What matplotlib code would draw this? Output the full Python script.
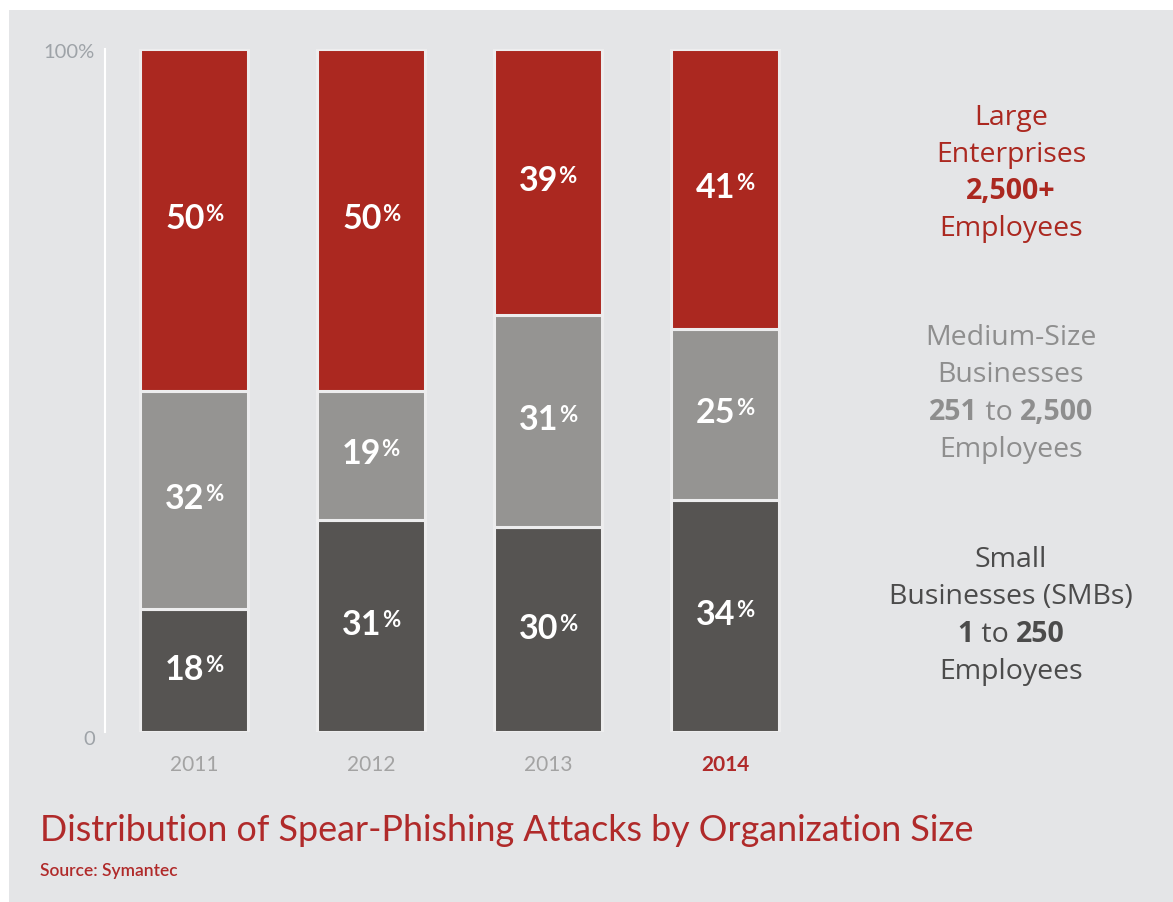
import matplotlib
matplotlib.use("Agg")
import matplotlib.pyplot as plt
from matplotlib.transforms import IdentityTransform
from matplotlib.patches import Rectangle

plt.rcParams["font.family"] = ["Lato", "DejaVu Sans"]

W, H = 1173, 903
DPI = 100

years = ["2011", "2012", "2013", "2014"]
small = [18, 31, 30, 34]
medium = [32, 19, 31, 25]
large = [50, 50, 39, 41]

RED = "#ab2820"
MID = "#959492"
DARK = "#565452"
BG = "#e4e5e7"

fig = plt.figure(figsize=(W / DPI, H / DPI), dpi=DPI)
fig.patch.set_facecolor("white")
fig.add_artist(Rectangle((9 / W, -0.01), 1.02 - 9 / W, (H - 11) / H + 0.01,
                         transform=fig.transFigure, facecolor=BG, edgecolor="none", zorder=-10))

# axes placed in pixels: x 105..830, y 50..733
ax = fig.add_axes([105 / W, (H - 733) / H, (830 - 105) / W, (733 - 50) / H])
ax.set_facecolor("none")
ax.set_xlim(-0.503, 3.593)
ax.set_ylim(0, 100)

x = list(range(len(years)))
bw = 0.61
edge = dict(edgecolor="#ededee", linewidth=2.2)
ax.bar(x, small, bw, color=DARK, **edge)
bot2 = [a for a in small]
ax.bar(x, medium, bw, bottom=bot2, color=MID, **edge)
bot3 = [a + b for a, b in zip(small, medium)]
ax.bar(x, large, bw, bottom=bot3, color=RED, **edge)

for s in ["top", "right", "bottom"]:
    ax.spines[s].set_visible(False)
ax.spines["left"].set_color("white")
ax.spines["left"].set_linewidth(1.5)
ax.set_yticks([])
ax.set_xticks(x)
ax.set_xticklabels(years, fontsize=15, color="#a3a3a3")
ax.tick_params(axis="x", length=0, pad=16)
lab = ax.get_xticklabels()[-1]
lab.set_color("#b02a2a")
lab.set_fontweight("bold")

fig.text(95 / W, (H - 52) / H, "100%", ha="right", va="center", fontsize=14.5, color="#9ea3a8")
fig.text(95 / W, (H - 740) / H, "0", ha="right", va="center", fontsize=14.5, color="#9ea3a8")

renderer = fig.canvas.get_renderer()
ID = IdentityTransform()


def pieces_line(xc, yc, pieces):
    """place text pieces side by side, centered on display point (xc, yc)"""
    arts = []
    for txt, kw, dy in pieces:
        t = fig.text(0, 0, txt, transform=ID, ha="left", va="baseline", **kw)
        arts.append((t, dy))
    widths = [t.get_window_extent(renderer).width for t, _ in arts]
    total = sum(widths)
    xs = xc - total / 2
    for (t, dy), w in zip(arts, widths):
        t.set_position((xs, yc + dy))
        xs += w


# percent labels in the bars
for i in x:
    for val, b in [(small[i], 0), (medium[i], small[i]), (large[i], small[i] + medium[i])]:
        px, py = ax.transData.transform((i, b + val / 2))
        pieces_line(px, py - 8, [
            (str(val), dict(fontsize=24.5, weight="bold", color="white"), 0),
            ("%", dict(fontsize=16, weight="bold", color="white"), 8),
        ])

# right side category labels
XC = 1011
RFONT = ["Open Sans", "DejaVu Sans"]
blocks = [
    (RED, [115, 152, 189, 226],
     [[("Large", False)], [("Enterprises", False)], [("2,500+", True)], [("Employees", False)]]),
    ("#8e8e8e", [335, 372, 410, 447],
     [[("Medium-Size", False)], [("Businesses", False)],
      [("251", True), (" to ", False), ("2,500", True)], [("Employees", False)]]),
    ("#4b4b4b", [557, 594, 632, 669],
     [[("Small", False)], [("Businesses (SMBs)", False)],
      [("1", True), (" to ", False), ("250", True)], [("Employees", False)]]),
]
for col, ys, lines in blocks:
    for y, parts in zip(ys, lines):
        pieces_line(XC, H - y - 10, [
            (t, dict(fontsize=20.5, family=RFONT, weight="bold" if b else "normal", color=col), 0)
            for t, b in parts
        ])

fig.text(40 / W, (H - 831) / H, "Distribution of Spear-Phishing Attacks by Organization Size",
         ha="left", va="center", fontsize=25.8, color="#b02a2a")
fig.text(40 / W, (H - 871) / H, "Source: Symantec", ha="left", va="center",
         fontsize=12.5, color="#b02a2a", weight="semibold")

fig.savefig("out.png", dpi=DPI)
